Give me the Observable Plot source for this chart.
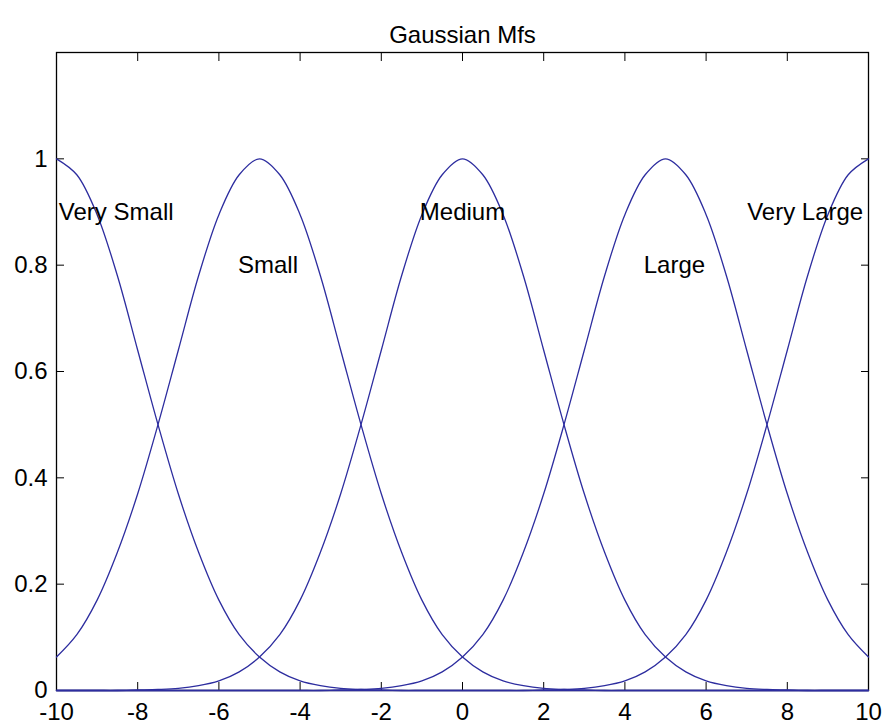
<!DOCTYPE html>
<html><head><meta charset="utf-8">
<script src="https://cdn.jsdelivr.net/npm/d3@7"></script>
<script src="https://cdn.jsdelivr.net/npm/@observablehq/plot@0.6"></script>
<style>body{margin:0;background:#fff}</style>
</head><body><div id="chart"></div>
<script>
// ---- data ----
const chartTitle = "Gaussian Mfs";
const mfNames = ["Very Small", "Small", "Medium", "Large", "Very Large"];
const mfCenters = [-10, -5, 0, 5, 10];
// membership value at a given distance from a curve's centre
const profileOffsets = [0, 0.5, 1, 1.5, 2, 2.5, 3, 3.5, 4, 4.5, 5, 5.5, 6, 6.5, 7, 7.5, 8, 8.5, 9, 9.5, 10, 15, 20];
const profileValues  = [1, 0.97, 0.895, 0.78, 0.64, 0.5, 0.37, 0.26, 0.17, 0.105, 0.063, 0.035, 0.018, 0.009, 0.004, 0.002, 0.001, 0, 0, 0, 0, 0, 0];
const labelX = [-8.53, -4.79, 0, 5.22, 8.44];
const labelY = [0.9, 0.8, 0.9, 0.8, 0.9];
const xTicks = [-10, -8, -6, -4, -2, 0, 2, 4, 6, 8, 10];
const yTicks = [0, 0.2, 0.4, 0.6, 0.8, 1];

// ---- build tables ----
const points = [];
mfNames.forEach((name, i) => {
  const c = mfCenters[i];
  const pts = [];
  profileOffsets.forEach((o, j) => {
    const v = profileValues[j];
    if (c - o >= -10 && o > 0) pts.push({mf: name, x: c - o, y: v});
    if (c + o <= 10) pts.push({mf: name, x: c + o, y: v});
  });
  pts.sort((a, b) => a.x - b.x);
  points.push(...pts);
});
const labels = mfNames.map((n, i) => ({name: n, x: labelX[i], y: labelY[i]}));

const lineColor = "#2d2d9f";
const chart = Plot.plot({
  width: 884,
  height: 725,
  marginLeft: 56,
  marginRight: 16,
  marginTop: 52,
  marginBottom: 35,
  style: {fontFamily: "'Liberation Sans', Arial, Helvetica, sans-serif", fontSize: "24px", color: "#000", background: "#fff"},
  x: {domain: [-10, 10], label: null},
  y: {domain: [0, 1.2], label: null},
  marks: [
    Plot.axisX(xTicks, {anchor: "bottom", tickSize: -8, tickPadding: 20, tickFormat: d => String(d), label: null, stroke: "#000", fill: "#000"}),
    Plot.axisX(xTicks, {anchor: "top", tickSize: -8, tickFormat: () => "", label: null, stroke: "#000"}),
    Plot.axisY(yTicks, {anchor: "left", tickSize: -8, tickPadding: 17, tickFormat: d => String(d), label: null, stroke: "#000", fill: "#000"}),
    Plot.axisY(yTicks, {anchor: "right", tickSize: -8, tickFormat: () => "", label: null, stroke: "#000"}),
    Plot.frame({stroke: "#000", strokeWidth: 1.3}),
    Plot.line(points, {x: "x", y: "y", z: "mf", stroke: lineColor, strokeWidth: 1.3, curve: "catmull-rom"}),
    Plot.text(labels, {x: "x", y: "y", text: "name", fill: "#000", fontSize: 24}),
    Plot.text([chartTitle], {frameAnchor: "top", dy: -27, text: d => d, fill: "#000", fontSize: 24})
  ]
});
document.getElementById("chart").appendChild(chart);
</script>
</body></html>
